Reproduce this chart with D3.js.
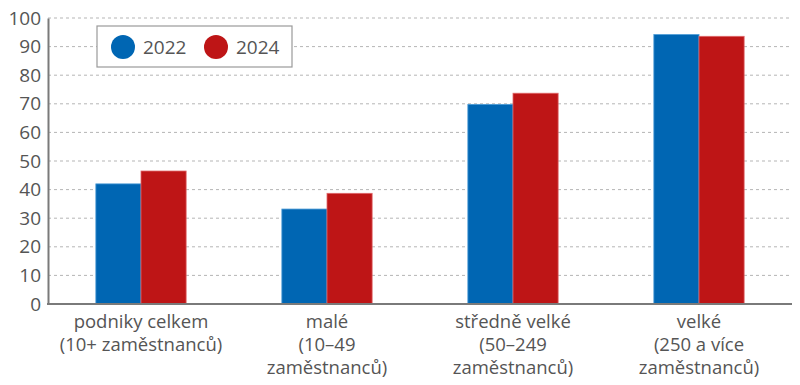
<!DOCTYPE html>
<html>
<head>
<meta charset="utf-8">
<script src="https://cdn.jsdelivr.net/npm/d3@7"></script>
<style>
  body { margin: 0; background: #fff; }
  text { font-family: "Open Sans", "Noto Sans", sans-serif; fill: #555; }
</style>
</head>
<body>
<div id="chart"></div>
<script>
const width = 800, height = 385;

// data
const categories = [
  ["podniky celkem", "(10+ zaměstnanců)"],
  ["malé", "(10–49", "zaměstnanců)"],
  ["středně velké", "(50–249", "zaměstnanců)"],
  ["velké", "(250 a více", "zaměstnanců)"]
];
const years = ["2022", "2024"];
const values2022 = [42, 33.2, 69.8, 94.2];
const values2024 = [46.5, 38.7, 73.7, 93.6];
const yTicks = [0, 10, 20, 30, 40, 50, 60, 70, 80, 90, 100];
const colors = ["#0066b3", "#be1516"];
const edgeColors = ["#4a9ad6", "#e0686a"];

const margin = { top: 18, right: 8, bottom: 81, left: 48 };

const svg = d3.select("#chart").append("svg")
    .attr("width", width)
    .attr("height", height);

const x0 = d3.scaleBand()
    .domain(d3.range(categories.length))
    .range([margin.left, width - margin.right])
    .paddingInner(0)
    .paddingOuter(0);

const x1 = d3.scaleBand()
    .domain(years)
    .range([0, x0.bandwidth()])
    .paddingOuter(1.06)
    .paddingInner(0);

const y = d3.scaleLinear()
    .domain([0, 100])
    .range([height - margin.bottom, margin.top]);

// gridlines
svg.append("g")
    .selectAll("line")
    .data(yTicks.filter(d => d > 0))
    .enter().append("line")
    .attr("x1", margin.left)
    .attr("x2", width - margin.right)
    .attr("y1", d => y(d))
    .attr("y2", d => y(d))
    .attr("stroke", "#b5b5b5")
    .attr("stroke-width", 1)
    .attr("stroke-dasharray", "3,3");

// bars
const series = [values2022, values2024];
series.forEach((vals, si) => {
    svg.append("g")
        .selectAll("rect")
        .data(vals)
        .enter().append("rect")
        .attr("x", (d, i) => x0(i) + x1(years[si]))
        .attr("width", x1.bandwidth())
        .attr("y", d => y(d))
        .attr("height", d => y(0) - y(d))
        .attr("fill", colors[si])
        .attr("stroke", edgeColors[si])
        .attr("stroke-width", 0.8);
});

// y axis
const yAxis = d3.axisLeft(y)
    .tickValues(yTicks)
    .tickSize(0)
    .tickPadding(7);

const yg = svg.append("g")
    .attr("transform", `translate(${margin.left},0)`)
    .call(yAxis);
yg.select(".domain").attr("stroke", "#7a7a7a").attr("stroke-width", 2);
yg.selectAll("text")
    .style("font-size", "19px")
    .style("font-family", "\"Open Sans\", sans-serif")
    .attr("fill", "#555");

// x axis baseline
svg.append("line")
    .attr("x1", margin.left - 1)
    .attr("x2", width - margin.right)
    .attr("y1", y(0))
    .attr("y2", y(0))
    .attr("stroke", "#7a7a7a")
    .attr("stroke-width", 2);

// category labels
const labels = svg.append("g")
    .selectAll("text")
    .data(categories)
    .enter().append("text")
    .attr("text-anchor", "middle")
    .attr("x", (d, i) => x0(i) + x0.bandwidth() / 2)
    .attr("y", y(0) + 24)
    .style("font-size", "18.5px");

labels.selectAll("tspan")
    .data(d => d)
    .enter().append("tspan")
    .attr("x", function() { return d3.select(this.parentNode).attr("x"); })
    .attr("dy", (d, i) => i === 0 ? 0 : 23)
    .text(d => d);

// legend
const legend = svg.append("g");
legend.append("rect")
    .attr("x", 97)
    .attr("y", 26)
    .attr("width", 195)
    .attr("height", 41)
    .attr("fill", "#fff")
    .attr("stroke", "#9a9a9a")
    .attr("stroke-width", 1.2);

years.forEach((yr, i) => {
    const cx = 123 + i * 93;
    legend.append("circle")
        .attr("cx", cx)
        .attr("cy", 47)
        .attr("r", 12)
        .attr("fill", colors[i]);
    legend.append("text")
        .attr("x", cx + 20)
        .attr("y", 54)
        .style("font-size", "19px")
        .text(yr);
});
</script>
</body>
</html>
